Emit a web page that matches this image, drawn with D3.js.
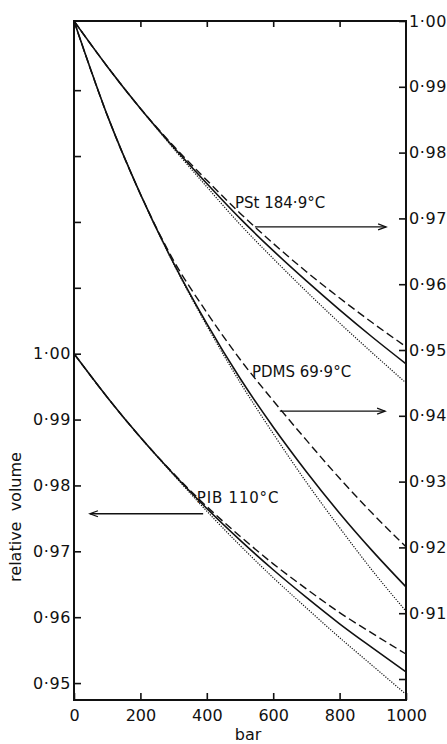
<!DOCTYPE html>
<html>
<head>
<meta charset="utf-8">
<script src="https://cdn.jsdelivr.net/npm/d3@7"></script>
<style>
  html, body { margin: 0; padding: 0; background: #fff; }
  svg { display: block; }
  text { font-family: "DejaVu Sans", sans-serif; fill: #111; }
</style>
</head>
<body>
<svg id="chart" width="447" height="744"></svg>
<script>
// ---- data ----
const pressure = [0, 100, 200, 300, 400, 500, 600, 700, 800, 900, 1000];

// PSt 184.9 °C (right axis)
const pstSolid  = [1.0000, 0.9931, 0.9867, 0.9808, 0.9753, 0.9700, 0.9651, 0.9605, 0.9561, 0.9519, 0.9479];
const pstDashed = [1.0000, 0.9931, 0.9867, 0.9810, 0.9758, 0.9708, 0.9662, 0.9619, 0.9579, 0.9541, 0.9505];
const pstDotted = [1.0000, 0.9931, 0.9867, 0.9806, 0.9748, 0.9691, 0.9639, 0.9589, 0.9541, 0.9495, 0.9450];

// PDMS 69.9 °C (right axis)
const pdmsSolid  = [1.0000, 0.9857, 0.9737, 0.9632, 0.9540, 0.9457, 0.9383, 0.9315, 0.9252, 0.9194, 0.9140];
const pdmsDashed = [1.0000, 0.9857, 0.9737, 0.9636, 0.9557, 0.9486, 0.9423, 0.9363, 0.9305, 0.9251, 0.9201];
const pdmsDotted = [1.0000, 0.9857, 0.9737, 0.9631, 0.9537, 0.9451, 0.9373, 0.9299, 0.9230, 0.9164, 0.9103];

// PIB 110 °C (left axis)
const pibSolid  = [1.0000, 0.9934, 0.9873, 0.9817, 0.9765, 0.9717, 0.9672, 0.9630, 0.9590, 0.9553, 0.9517];
const pibDashed = [1.0000, 0.9934, 0.9873, 0.9818, 0.9768, 0.9723, 0.9681, 0.9643, 0.9607, 0.9575, 0.9544];
const pibDotted = [1.0000, 0.9934, 0.9873, 0.9816, 0.9761, 0.9709, 0.9660, 0.9614, 0.9569, 0.9526, 0.9483];

const xTicks = [0, 200, 400, 600, 800, 1000];
const topTicks = [200, 400, 600, 800];
const leftTicks = [0.95, 0.96, 0.97, 0.98, 0.99, 1.00, 1.01, 1.02, 1.03, 1.04];
const leftLabelled = [0.95, 0.96, 0.97, 0.98, 0.99, 1.00];
const rightTicks = [0.90, 0.91, 0.92, 0.93, 0.94, 0.95, 0.96, 0.97, 0.98, 0.99, 1.00];
const rightLabelled = [0.91, 0.92, 0.93, 0.94, 0.95, 0.96, 0.97, 0.98, 0.99, 1.00];

const xLabel = "bar";
const yLabel = "relative  volume";

// annotations in data units
const labels = ["PSt 184·9°C", "PDMS  69·9°C", "PIB 110°C"];
const labelAxis = ["right", "right", "left"];
const labelBar = [485, 536, 370];
const labelValue = [0.9716, 0.9459, 0.9773];
const arrowFrom = [545, 620, 389];
const arrowTo = [940, 937, 48];
const arrowValue = [0.9687, 0.9407, 0.9757];

// ---- layout ----
const mLeft = 74, mRight = 406, mTop = 21, mBottom = 700;

const svg = d3.select("#chart");
const x = d3.scaleLinear().domain([0, 1000]).range([mLeft, mRight]);
const yL = d3.scaleLinear().domain([0.94743, 1.0505]).range([mBottom, mTop]);
const yR = d3.scaleLinear().domain([0.89681, 1.0]).range([mBottom, mTop]);

const fmt = v => d3.format(".2f")(v).replace(".", "·");

// axes
const gLeft = svg.append("g").attr("transform", `translate(${mLeft},0)`)
  .call(d3.axisLeft(yL).tickValues(leftTicks).tickSize(-7).tickPadding(3)
    .tickFormat(v => leftLabelled.some(t => Math.abs(t - v) < 1e-9) ? fmt(v) : ""));
const gRight = svg.append("g").attr("transform", `translate(${mRight},0)`)
  .call(d3.axisRight(yR).tickValues(rightTicks).tickSize(-7).tickPadding(3)
    .tickFormat(v => rightLabelled.some(t => Math.abs(t - v) < 1e-9) ? fmt(v) : ""));
const gBottom = svg.append("g").attr("transform", `translate(0,${mBottom})`)
  .call(d3.axisBottom(x).tickValues(xTicks).tickSize(-7).tickPadding(10).tickFormat(d3.format("d")));
const gTop = svg.append("g").attr("transform", `translate(0,${mTop})`)
  .call(d3.axisTop(x).tickValues(topTicks).tickSize(-6).tickFormat(""));

[gLeft, gRight, gBottom, gTop].forEach(g => {
  g.select(".domain").remove();
  g.selectAll(".tick line").attr("stroke", "#111").attr("stroke-width", 1.6);
  g.selectAll(".tick text").attr("font-size", 16).attr("letter-spacing", 0.6)
    .attr("font-family", "DejaVu Sans, sans-serif").attr("fill", "#111");
});
gBottom.selectAll(".tick text").attr("letter-spacing", 0);
gRight.selectAll(".tick text").attr("x", 3);

// frame
svg.append("rect")
  .attr("x", mLeft).attr("y", mTop)
  .attr("width", mRight - mLeft).attr("height", mBottom - mTop)
  .attr("fill", "none").attr("stroke", "#111").attr("stroke-width", 2);

// curves
const series = [
  { v: pstSolid,   y: yR, style: "solid" },
  { v: pstDashed,  y: yR, style: "dashed" },
  { v: pstDotted,  y: yR, style: "dotted" },
  { v: pdmsSolid,  y: yR, style: "solid" },
  { v: pdmsDashed, y: yR, style: "dashed" },
  { v: pdmsDotted, y: yR, style: "dotted" },
  { v: pibSolid,   y: yL, style: "solid" },
  { v: pibDashed,  y: yL, style: "dashed" },
  { v: pibDotted,  y: yL, style: "dotted" }
];
const styles = {
  solid:  { w: 1.6, dash: null },
  dashed: { w: 1.4, dash: "8,4" },
  dotted: { w: 1.2, dash: "1.2,1.4" }
};
series.forEach(s => {
  const line = d3.line()
    .x((d, i) => x(pressure[i]))
    .y(d => s.y(d))
    .curve(d3.curveMonotoneX);
  svg.append("path")
    .attr("d", line(s.v))
    .attr("fill", "none")
    .attr("stroke", "#111")
    .attr("stroke-width", styles[s.style].w)
    .attr("stroke-dasharray", styles[s.style].dash);
});

// labels + arrows
labels.forEach((t, i) => {
  const ys = labelAxis[i] === "right" ? yR : yL;
  svg.append("text")
    .attr("x", x(labelBar[i])).attr("y", ys(labelValue[i]))
    .attr("font-size", 15).attr("letter-spacing", i === 2 ? 0.8 : 0)
    .text(t);
  const x0 = x(arrowFrom[i]), x1 = x(arrowTo[i]), ya = ys(arrowValue[i]);
  svg.append("line").attr("x1", x0).attr("x2", x1).attr("y1", ya).attr("y2", ya)
    .attr("stroke", "#111").attr("stroke-width", 1.3);
  const dir = x1 > x0 ? -1 : 1;
  svg.append("path")
    .attr("d", `M${x1 + dir * 8},${ya - 3} L${x1},${ya} L${x1 + dir * 8},${ya + 3}`)
    .attr("fill", "none").attr("stroke", "#111").attr("stroke-width", 1.3);
});

// axis titles
svg.append("text")
  .attr("x", (mLeft + mRight) / 2 + 8).attr("y", 740)
  .attr("text-anchor", "middle").attr("font-size", 16)
  .text(xLabel);
svg.append("text")
  .attr("transform", "translate(21,517) rotate(-90)")
  .attr("text-anchor", "middle").attr("font-size", 16)
  .attr("xml:space", "preserve").style("white-space", "pre")
  .text(yLabel);
</script>
</body>
</html>
